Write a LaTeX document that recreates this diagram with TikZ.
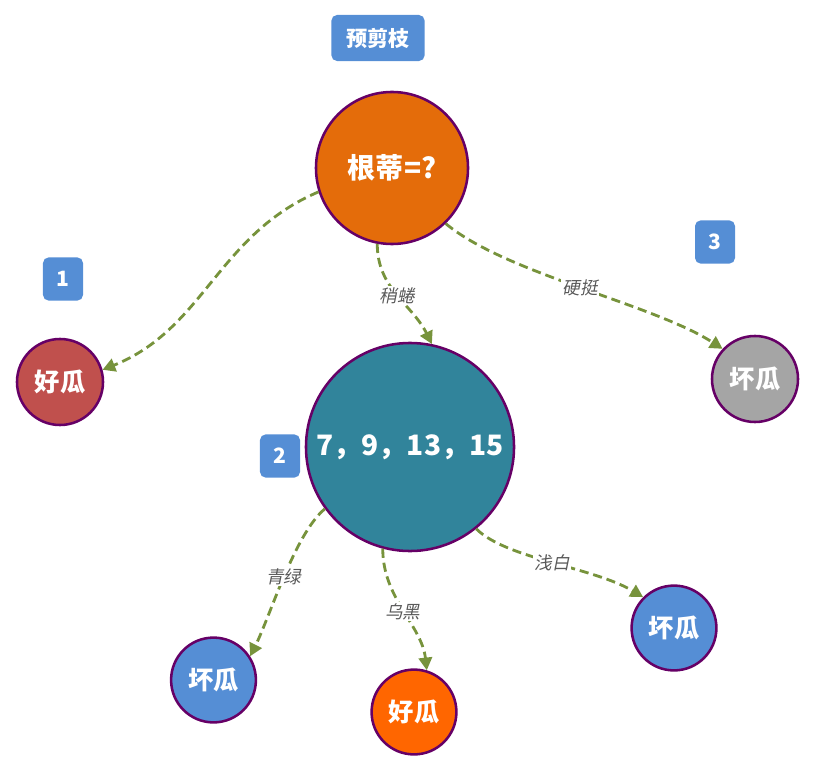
\documentclass[tikz,border=0pt]{standalone}
\usepackage{fontspec}
\newfontfamily\cjk{Noto Sans CJK SC}
\newfontfamily\cjkslant[FakeSlant=0.2]{Noto Sans CJK SC}
\usetikzlibrary{arrows.meta}
\definecolor{tagblue}{HTML}{558ED5}
\definecolor{rim}{HTML}{660066}
\definecolor{branchgreen}{HTML}{77933C}
\definecolor{labelgray}{HTML}{595959}
\definecolor{rootorange}{HTML}{E46C0A}
\definecolor{goodred}{HTML}{C0504D}
\definecolor{badgray}{HTML}{A5A5A5}
\definecolor{midteal}{HTML}{31849B}
\definecolor{goodorange}{HTML}{FF6600}

\begin{document}
\begin{tikzpicture}[
    x=0.025cm,y=0.025cm,
    >={Triangle[length=9pt,width=9.5pt]},
    leaf/.style = {circle,draw=rim,line width=1.8pt,inner sep=0pt,text=white,
      font=\cjk\bfseries\fontsize{18}{22}\selectfont,minimum size=2.12cm},
    big/.style = {leaf,font=\cjk\bfseries\fontsize{20}{24}\selectfont},
    tag/.style = {fill=tagblue,rounded corners=4pt,text=white,inner sep=0pt,
      font=\cjk\bfseries\fontsize{15}{18}\selectfont,minimum width=1cm,minimum height=1.08cm},
    branch/.style = {branchgreen,->,line width=2pt,dash pattern=on 6.5pt off 3.5pt},
    lbl/.style = {fill=white,inner sep=1pt,text=labelgray,font=\cjkslant\fontsize{12.5}{14}\selectfont}
    ]
    \useasboundingbox (0,0) rectangle (814,772);
    % Tags
    \node[tag,minimum width=2.33cm,minimum height=1.15cm] (title) at (378,734) {预剪枝};
    \node[tag] (tag1) at (63,493) {1};
    \node[tag] (tag2) at (280,316) {2};
    \node[tag] (tag3) at (715,530) {3};
    % Nodes
    \node[big,fill=rootorange,minimum size=3.8cm] (root) at (392,604) {根蒂=?};
    \node[leaf,fill=goodred,minimum size=2.15cm] (good1) at (60,390) {好瓜};
    \node[leaf,fill=badgray,minimum size=2.15cm] (bad3) at (755,393) {坏瓜};
    \node[big,fill=midteal,minimum size=5.2cm] (mid) at (410,325) {7，9，13，15};
    \node[leaf,fill=tagblue] (bad21) at (213.5,92) {坏瓜};
    \node[leaf,fill=goodorange] (good22) at (414,60) {好瓜};
    \node[leaf,fill=tagblue] (bad23) at (674,144) {坏瓜};
    % Branches from the root
    \draw[branch] (root.198) .. controls +(-101,-43) and +(102,41) .. (good1.16);
    \draw[branch] (root.259) .. controls +(0,-45) and +(-20,40) .. node[lbl] {稍蜷} (mid.78);
    \draw[branch] (root.314) .. controls +(60,-50) and +(-70,45) .. node[lbl] {硬挺} (bad3.137);
    % Branches from the middle node
    \draw[branch] (mid.216) .. controls +(-30,-25) and +(20,40) .. node[lbl] {青绿} (bad21.33);
    \draw[branch] (mid.255) .. controls +(0,-50) and +(-5,45) .. node[lbl] {乌黑} (good22.73);
    \draw[branch] (mid.309) .. controls +(30,-30) and +(-50,30) .. node[lbl] {浅白} (bad23.135);
\end{tikzpicture}
\end{document}
